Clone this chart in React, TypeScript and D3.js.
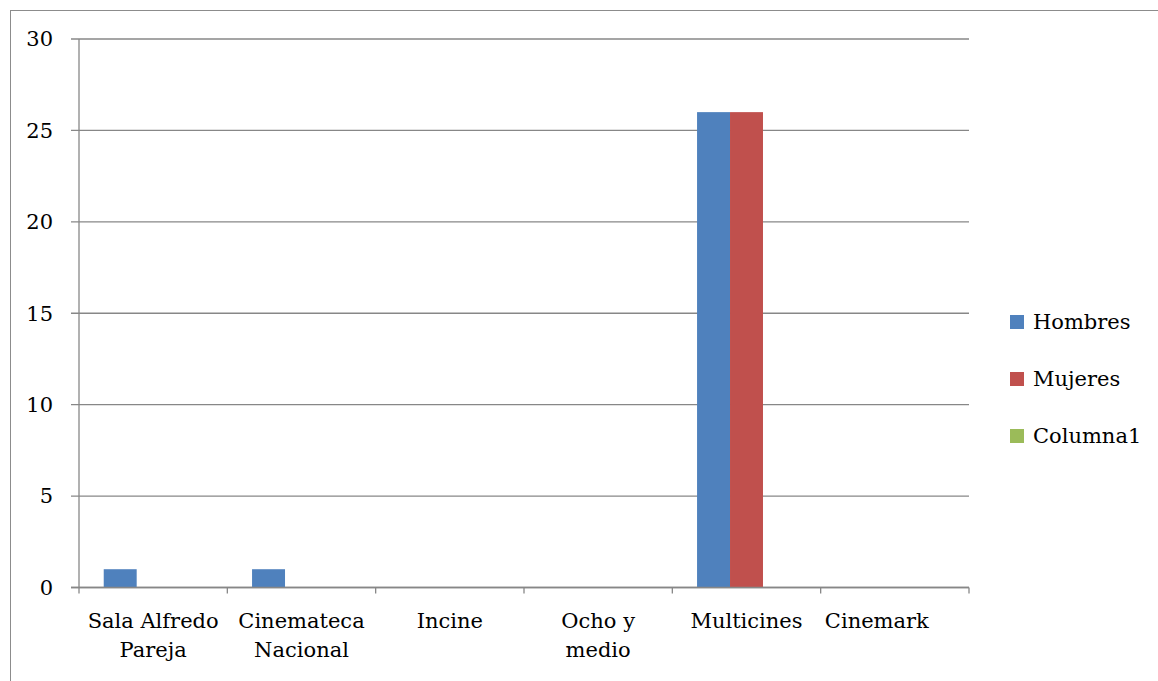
import * as React from "react";
import { scaleBand, scaleLinear } from "d3";

const categories = [
  "Sala Alfredo Pareja",
  "Cinemateca Nacional",
  "Incine",
  "Ocho y medio",
  "Multicines",
  "Cinemark",
];
const tickLabels = [
  ["Sala Alfredo", "Pareja"],
  ["Cinemateca", "Nacional"],
  ["Incine"],
  ["Ocho y", "medio"],
  ["Multicines"],
  ["Cinemark"],
];
const seriesNames = ["Hombres", "Mujeres", "Columna1"];
const hombres = [1, 1, 0, 0, 26, 0];
const mujeres = [0, 0, 0, 0, 26, 0];
const columna1 = [0, 0, 0, 0, 0, 0];
const yTicks = [0, 5, 10, 15, 20, 25, 30];

const colours = ["#4F81BD", "#C0504D", "#9BBB59"];
const seriesValues = [hombres, mujeres, columna1];

const width = 1158;
const height = 681;
const left = 79;
const right = 969;
const top = 39;
const bottom = 587.5;
const font = "DejaVu Serif";
const fs = 21;
const grey = "#878787";

// x position of a category label (Excel pushes the last one left a bit)
const labelX = (x: any, c: string, i: number) =>
  (x(c) ?? 0) + x.bandwidth() / 2 + (i === categories.length - 1 ? -18 : 0);

export default function App() {
  const x = scaleBand<string>().domain(categories).range([left, right]);
  const inner = scaleBand<string>()
    .domain(seriesNames)
    .range([0, x.bandwidth()])
    .paddingOuter(0.75);
  const y = scaleLinear().domain([0, 30]).range([bottom, top]);

  return (
    <>
      <style>{`body{margin:0}`}</style>
      <svg width={width} height={height} style={{ display: "block" }}>
        <rect x={10.5} y={10.5} width={width + 10} height={height + 10} fill="white" stroke="#8c8c8c" />

        {/* gridlines + y ticks */}
        {yTicks.map((t) => (
          <g key={t}>
            <line x1={left - 8} x2={right} y1={y(t)} y2={y(t)} stroke={grey} strokeWidth={1.3} />
            <text
              x={53}
              y={y(t)}
              dy="0.35em"
              textAnchor="end"
              fontFamily={font}
              fontSize={fs}
              fill="#000"
            >
              {t}
            </text>
          </g>
        ))}

        {/* bars */}
        {seriesValues.map((vals, s) =>
          vals.map((v, i) =>
            v > 0 ? (
              <rect
                key={`${s}-${i}`}
                x={(x(categories[i]) ?? 0) + (inner(seriesNames[s]) ?? 0)}
                y={y(v)}
                width={inner.bandwidth()}
                height={y(0) - y(v)}
                fill={colours[s]}
              />
            ) : null,
          ),
        )}

        {/* axes */}
        <line x1={left} x2={left} y1={top} y2={bottom} stroke={grey} strokeWidth={1.3} />
        <line x1={left - 8} x2={right} y1={bottom} y2={bottom} stroke={grey} strokeWidth={1.3} />
        {categories.map((c) => (
          <line key={c} x1={x(c)} x2={x(c)} y1={bottom} y2={bottom + 6} stroke={grey} strokeWidth={1.3} />
        ))}
        <line x1={right} x2={right} y1={bottom} y2={bottom + 6} stroke={grey} strokeWidth={1.3} />

        {/* x labels */}
        {categories.map((c, i) => (
          <text
            key={c}
            x={labelX(x, c, i)}
            y={bottom + 40}
            textAnchor="middle"
            fontFamily={font}
            fontSize={fs}
            fill="#000"
          >
            {tickLabels[i].map((line, j) => (
              <tspan key={j} x={labelX(x, c, i)} dy={j === 0 ? 0 : 29}>
                {line}
              </tspan>
            ))}
          </text>
        ))}

        {/* legend */}
        {seriesNames.map((n, i) => (
          <g key={n} transform={`translate(1010, ${322 + i * 57})`}>
            <rect x={0} y={-7} width={14} height={14} fill={colours[i]} />
            <text x={23} y={0} dy="0.35em" fontFamily={font} fontSize={fs} fill="#000">
              {n}
            </text>
          </g>
        ))}
      </svg>
    </>
  );
}
